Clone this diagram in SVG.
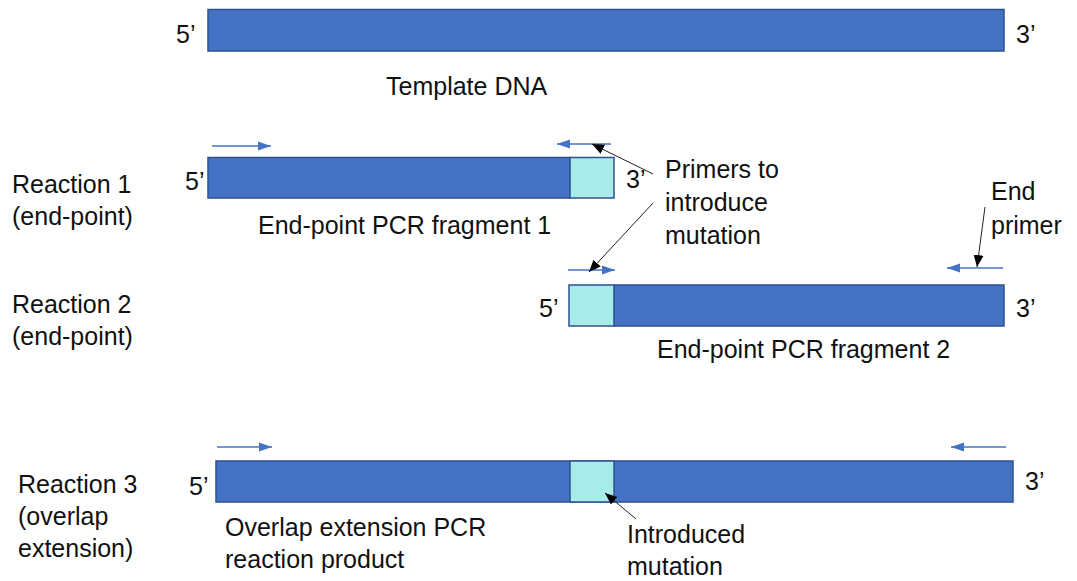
<svg xmlns="http://www.w3.org/2000/svg" width="1077" height="581" viewBox="0 0 1077 581">
<style>
text{font-family:"Liberation Sans",Arial,sans-serif;font-size:25px;fill:#111}
.bar{fill:#4472C4;stroke:#2F528F;stroke-width:1.5}
.mut{fill:#A7ECE8;stroke:#2F528F;stroke-width:1.5}
.primer{stroke:#4472C4;stroke-width:1.5;fill:none;marker-end:url(#bh)}
.ptr{stroke:#222;stroke-width:1;fill:none;marker-end:url(#kh)}
</style>
<defs>
<marker id="bh" markerUnits="userSpaceOnUse" markerWidth="14" markerHeight="12" viewBox="0 0 14 12" refX="13" refY="6" orient="auto"><path d="M0,1.5 L13,6 L0,10.5 Z" fill="#4472C4"/></marker>
<marker id="kh" markerUnits="userSpaceOnUse" markerWidth="13" markerHeight="12" viewBox="0 0 13 12" refX="12" refY="6" orient="auto"><path d="M0,1 L12,6 L0,11 Z" fill="#000"/></marker>
</defs>
<rect width="1077" height="581" fill="#fff"/>
<g id="template">
<rect class="bar" x="208" y="9.5" width="796" height="41.5"/>
<text x="176" y="43">5’</text>
<text x="1016" y="43">3’</text>
<text x="386" y="95">Template DNA</text>
</g>
<g id="reaction1">
<text x="12" y="193">Reaction 1</text>
<text x="12" y="225">(end-point)</text>
<rect class="bar" x="208" y="157.5" width="362" height="40.5"/>
<rect class="mut" x="570" y="157.5" width="44" height="40.5"/>
<text x="185" y="190">5’</text>
<text x="626" y="188">3’</text>
<text x="258" y="234">End-point PCR fragment 1</text>
</g>
<g id="reaction2">
<text x="12" y="313">Reaction 2</text>
<text x="12" y="345">(end-point)</text>
<rect class="bar" x="614" y="285" width="390" height="41"/>
<rect class="mut" x="569" y="285" width="45" height="41"/>
<text x="539" y="317">5’</text>
<text x="1016" y="317">3’</text>
<text x="657" y="358">End-point PCR fragment 2</text>
</g>
<g id="reaction3">
<text x="18" y="493">Reaction 3</text>
<text x="18" y="525">(overlap</text>
<text x="18" y="557">extension)</text>
<rect class="bar" x="216" y="461" width="797" height="41"/>
<rect class="mut" x="570" y="461" width="44" height="41"/>
<text x="189" y="495">5’</text>
<text x="1025" y="490">3’</text>
<text x="225" y="536">Overlap extension PCR</text>
<text x="225" y="568">reaction product</text>
</g>
<g id="primers-label">
<text x="665" y="178">Primers to</text>
<text x="665" y="211">introduce</text>
<text x="665" y="244">mutation</text>
</g>
<g id="end-primer-label">
<text x="991" y="200">End</text>
<text x="991" y="234">primer</text>
</g>
<g id="mutation-label">
<text x="627" y="543">Introduced</text>
<text x="627" y="575">mutation</text>
</g>
<g id="connectors">
<line class="primer" x1="212" y1="146" x2="271" y2="146"/>
<line class="primer" x1="611" y1="144" x2="557" y2="144"/>
<line class="primer" x1="568" y1="270" x2="615" y2="270"/>
<line class="primer" x1="1003" y1="268" x2="947" y2="268"/>
<line class="primer" x1="217" y1="447" x2="272" y2="447"/>
<line class="primer" x1="1006" y1="447" x2="951" y2="447"/>
<line class="ptr" x1="653" y1="174" x2="592" y2="144"/>
<line class="ptr" x1="653" y1="203" x2="589" y2="272"/>
<line class="ptr" x1="985" y1="207" x2="977" y2="267"/>
<line class="ptr" x1="636" y1="519" x2="605" y2="493"/>
</g>
</svg>
